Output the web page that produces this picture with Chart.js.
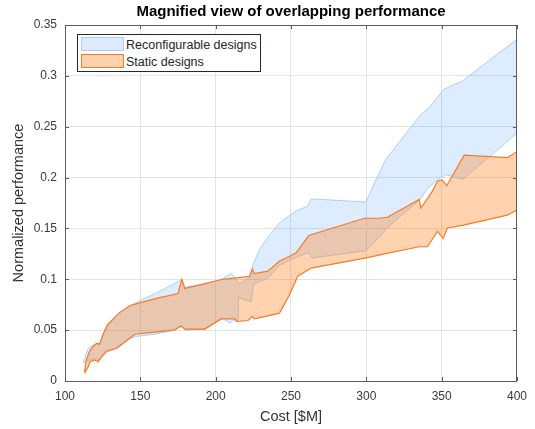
<!DOCTYPE html>
<html>
<head>
<meta charset="utf-8">
<title>Magnified view of overlapping performance</title>
<script src="https://cdn.jsdelivr.net/npm/chart.js@4.4.1/dist/chart.umd.min.js"></script>
<style>
  html, body { margin: 0; padding: 0; background: #fff; }
  #wrap { position: relative; width: 535px; height: 429px; }
  #legend {
    position: absolute; left: 77px; top: 34px; width: 182px; height: 36px;
    border: 1px solid #262626; background: #fff;
    font: 12.5px "Liberation Sans", Arial, sans-serif; color: #262626;
  }
  .sw { position: absolute; left: 3px; width: 41px; height: 12px; }
  .lbl { position: absolute; left: 48px; white-space: nowrap; line-height: 14px; }
</style>
</head>
<body>
<div id="wrap">
  <canvas id="perfChart" width="535" height="429"></canvas>
  <div id="legend">
    <div class="sw" style="top:2px; background:#dcebfd; border:1px solid #a9cdf3;"></div>
    <div class="lbl" style="top:3px;">Reconfigurable designs</div>
    <div class="sw" style="top:19px; background:#ffd2af; border:1px solid #f57b2a;"></div>
    <div class="lbl" style="top:20px;">Static designs</div>
  </div>
</div>
<script>
const chartTitle = "Magnified view of overlapping performance";
const xTicks = [100, 150, 200, 250, 300, 350, 400];
const yTicks = [0, 0.05, 0.1, 0.15, 0.2, 0.25, 0.3, 0.35];

// reconfigurable designs, upper and lower edge
const reconfUpperX = [112, 113, 115.4, 118.8, 123.2, 126, 129, 136, 143, 151, 160, 173, 177.5, 179.5, 192, 204, 210.4, 215.9, 223.6, 224.7, 229, 235.8, 243.5, 253.4, 261.1, 263.4, 299.8, 307.5, 313, 336.2, 341.7, 351.7, 363.8, 400];
const reconfUpperY = [0.019, 0.022, 0.032, 0.0355, 0.038, 0.047, 0.056, 0.067, 0.074, 0.080, 0.086, 0.096, 0.100, 0.092, 0.095, 0.100, 0.106, 0.095, 0.103, 0.114, 0.129, 0.144, 0.157, 0.167, 0.172, 0.179, 0.176, 0.2015, 0.218, 0.262, 0.269, 0.287, 0.295, 0.336];
const reconfLowerX = [112, 115, 120, 123, 126, 134, 143, 148, 160, 173, 177, 180, 193, 204, 209.3, 212, 214.8, 215.2, 223.6, 225.2, 234.6, 242.4, 254.5, 262, 263.5, 299.8, 315, 336, 340, 347, 352.8, 363.8, 392.5, 400];
const reconfLowerY = [0.018, 0.020, 0.022, 0.021, 0.029, 0.033, 0.042, 0.044, 0.046, 0.050, 0.054, 0.050, 0.051, 0.062, 0.057, 0.060, 0.058, 0.082, 0.078, 0.095, 0.101, 0.114, 0.1225, 0.126, 0.121, 0.128, 0.152, 0.179, 0.188, 0.198, 0.203, 0.198, 0.234, 0.244];

// static designs, upper and lower edge
const staticUpperX = [113, 114, 116, 118, 121, 123, 125, 128, 136, 143, 150, 160, 175, 177.5, 179.5, 204.8, 222.5, 224.3, 225.8, 234.6, 242.4, 249, 253.4, 261.8, 298.7, 308.6, 314, 335.1, 336.2, 343.9, 347.2, 350.5, 353.4, 364.9, 393.6, 400];
const staticUpperY = [0.009, 0.020, 0.028, 0.033, 0.037, 0.036, 0.045, 0.055, 0.067, 0.074, 0.077, 0.081, 0.086, 0.100, 0.091, 0.100, 0.103, 0.110, 0.1055, 0.108, 0.118, 0.1226, 0.126, 0.143, 0.160, 0.160, 0.161, 0.1785, 0.170, 0.1867, 0.1966, 0.1975, 0.192, 0.222, 0.2196, 0.2255];
const staticLowerX = [113, 115.4, 116.6, 119.9, 122, 125.4, 127.6, 134.2, 143, 146.4, 160, 172.8, 177, 179.5, 192.7, 203.8, 212.6, 214.3, 221.4, 224.3, 225.8, 242.4, 249, 254.5, 263.4, 299.8, 315.2, 335.1, 340.6, 347.2, 351, 353.8, 363.8, 393.6, 400];
const staticLowerY = [0.0076, 0.014, 0.019, 0.0207, 0.019, 0.0256, 0.029, 0.032, 0.042, 0.046, 0.048, 0.0503, 0.054, 0.051, 0.051, 0.061, 0.061, 0.0585, 0.0595, 0.0634, 0.061, 0.0667, 0.0848, 0.103, 0.111, 0.121, 0.126, 0.132, 0.132, 0.147, 0.140, 0.1505, 0.153, 0.163, 0.168];

// upper edge left->right then lower edge right->left, closed by fill:'shape'
function band(ux, uy, lx, ly) {
  const pts = ux.map((x, i) => ({ x: x, y: uy[i] }));
  for (let i = lx.length - 1; i >= 0; i--) pts.push({ x: lx[i], y: ly[i] });
  return pts;
}

const FONT = '"Liberation Sans", Arial, Helvetica, sans-serif';

const boxPlugin = {
  id: "matlabBox",
  afterDraw(chart) {
    const { ctx, chartArea: a, scales } = chart;
    ctx.save();
    ctx.strokeStyle = "#5c5c5c";
    ctx.lineWidth = 1;
    ctx.strokeRect(Math.round(a.left) + 0.5, Math.round(a.top) + 0.5, Math.round(a.right - a.left) - 1, Math.round(a.bottom - a.top));
    ctx.beginPath();
    xTicks.forEach((v) => {
      const px = Math.round(scales.x.getPixelForValue(v)) + 0.5;
      ctx.moveTo(px, a.bottom); ctx.lineTo(px, a.bottom - 4);
      ctx.moveTo(px, a.top); ctx.lineTo(px, a.top + 4);
    });
    yTicks.forEach((v) => {
      const py = Math.round(scales.y.getPixelForValue(v)) + 0.5;
      ctx.moveTo(a.left, py); ctx.lineTo(a.left + 4, py);
      ctx.moveTo(a.right, py); ctx.lineTo(a.right - 4, py);
    });
    ctx.stroke();
    ctx.font = "bold 15px " + FONT;
    ctx.fillStyle = "#000";
    ctx.textAlign = "center";
    ctx.textBaseline = "alphabetic";
    ctx.fillText(chartTitle, (a.left + a.right) / 2, 16);
    ctx.restore();
  }
};

new Chart(document.getElementById("perfChart"), {
  type: "scatter",
  data: {
    datasets: [
      {
        label: "Reconfigurable designs",
        data: band(reconfUpperX, reconfUpperY, reconfLowerX, reconfLowerY),
        showLine: true,
        fill: "shape",
        backgroundColor: "rgba(77,153,255,0.19)",
        borderColor: "#acd0f5",
        borderWidth: 1,
        pointRadius: 0,
        tension: 0,
        order: 2
      },
      {
        label: "Static designs",
        data: band(staticUpperX, staticUpperY, staticLowerX, staticLowerY),
        showLine: true,
        fill: "shape",
        backgroundColor: "rgba(255,128,26,0.35)",
        borderColor: "#f57b2a",
        borderWidth: 1.2,
        pointRadius: 0,
        tension: 0,
        order: 1
      }
    ]
  },
  options: {
    responsive: false,
    animation: false,
    layout: { padding: { top: 25, right: 16, left: 0, bottom: 0 } },
    plugins: { legend: { display: false }, tooltip: { enabled: false }, title: { display: false } },
    scales: {
      x: {
        type: "linear",
        min: 100,
        max: 400,
        afterBuildTicks: (s) => { s.ticks = xTicks.map((v) => ({ value: v })); },
        afterFit: (s) => { s.height = 48; },
        grid: { color: "#e3e3e3", drawTicks: false },
        border: { display: false },
        ticks: { padding: 8, color: "#3a3a3a", font: { family: FONT, size: 12 }, maxRotation: 0 },
        title: { display: true, text: "Cost [$M]", color: "#333", font: { family: FONT, size: 14.5 }, padding: { top: 3, bottom: 3 } }
      },
      y: {
        min: 0,
        max: 0.35,
        afterBuildTicks: (s) => { s.ticks = yTicks.map((v) => ({ value: v })); },
        afterFit: (s) => { s.width = 65; },
        grid: { color: "#e3e3e3", drawTicks: false },
        border: { display: false },
        ticks: { padding: 8, color: "#3a3a3a", font: { family: FONT, size: 12 }, callback: (v) => String(+v.toFixed(2)) },
        title: { display: true, text: "Normalized performance", color: "#333", font: { family: FONT, size: 14.5 }, padding: { top: 10, bottom: 0 } }
      }
    }
  },
  plugins: [boxPlugin]
});
</script>
</body>
</html>
